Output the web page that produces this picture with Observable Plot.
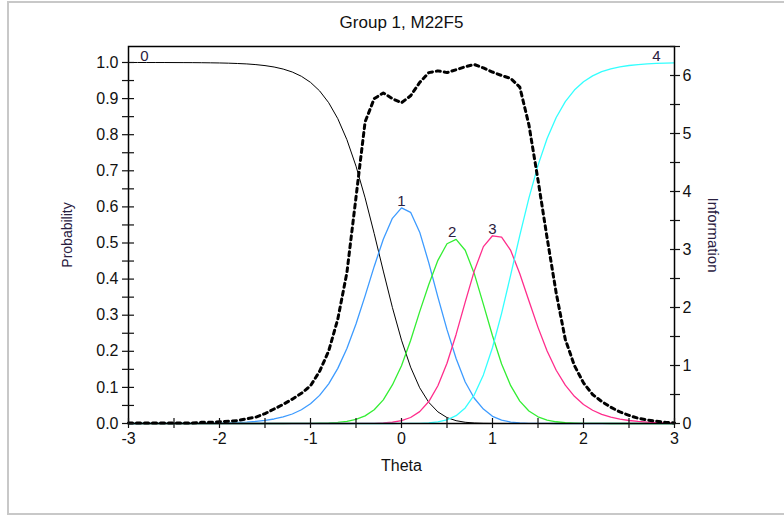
<!DOCTYPE html>
<html><head><meta charset="utf-8">
<script src="https://cdn.jsdelivr.net/npm/d3@7"></script>
<script src="https://cdn.jsdelivr.net/npm/@observablehq/plot@0.6"></script>
<style>
html,body{margin:0;padding:0;background:#fff;}
#wrap{position:relative;width:784px;height:516px;overflow:hidden;background:#fff;}
#border{position:absolute;left:7px;top:1px;width:820px;height:514px;border:2px solid #c8c8c8;box-sizing:border-box;}
#chart{position:absolute;left:0;top:0;}
</style></head><body>
<div id="wrap"><div id="border"></div><div id="chart"></div></div>
<script>
const title = "Group 1, M22F5";
const xLabel = "Theta";
const yLabel = "Probability";
const y2Label = "Information";

const theta = [-3.0,-2.9,-2.8,-2.7,-2.6,-2.5,-2.4,-2.3,-2.2,-2.1,-2.0,-1.9,-1.8,-1.7,-1.6,-1.5,-1.4,-1.3,-1.2,-1.1,-1.0,-0.9,-0.8,-0.7,-0.6,-0.5,-0.4,-0.3,-0.2,-0.1,0.0,0.1,0.2,0.3,0.4,0.5,0.6,0.7,0.8,0.9,1.0,1.1,1.2,1.3,1.4,1.5,1.6,1.7,1.8,1.9,2.0,2.1,2.2,2.3,2.4,2.5,2.6,2.7,2.8,2.9,3.0];

const cat0 = [1.0000,1.0000,0.9999,0.9999,0.9999,0.9998,0.9997,0.9996,0.9994,0.9991,0.9987,0.9981,0.9972,0.9960,0.9941,0.9914,0.9875,0.9818,0.9736,0.9618,0.9450,0.9214,0.8886,0.8443,0.7862,0.7129,0.6251,0.5261,0.4223,0.3214,0.2309,0.1561,0.0989,0.0585,0.0322,0.0164,0.0078,0.0034,0.0014,0.0005,0.0002,0.0001,0,0,0,0,0,0,0,0,0,0,0,0,0,0,0,0,0,0,0];
const cat1 = [0,0,0.0001,0.0001,0.0001,0.0002,0.0003,0.0004,0.0006,0.0009,0.0013,0.0019,0.0028,0.0040,0.0059,0.0086,0.0125,0.0182,0.0263,0.0380,0.0547,0.0779,0.1099,0.1527,0.2079,0.2757,0.3535,0.4351,0.5106,0.5683,0.5971,0.5850,0.5300,0.4450,0.3500,0.2600,0.1800,0.1150,0.0700,0.0399,0.0200,0.0092,0.0040,0.0016,0.0006,0.0002,0.0001,0,0,0,0,0,0,0,0,0,0,0,0,0,0];
const cat2 = [0,0,0,0,0,0,0,0,0,0,0,0,0,0,0,0,0,0,0.0001,0.0002,0.0003,0.0007,0.0014,0.0029,0.0058,0.0113,0.0212,0.0382,0.0656,0.1068,0.1600,0.2300,0.3100,0.3850,0.4520,0.4980,0.5100,0.4800,0.4150,0.3300,0.2430,0.1650,0.1048,0.0621,0.0348,0.0186,0.0096,0.0048,0.0024,0.0012,0.0005,0.0003,0.0001,0,0,0,0,0,0,0,0];
const cat3 = [0,0,0,0,0,0,0,0,0,0,0,0,0,0,0,0,0,0,0,0,0,0,0,0,0,0.0001,0.0002,0.0006,0.0015,0.0035,0.0078,0.0166,0.0328,0.0608,0.1046,0.1670,0.2467,0.3363,0.4228,0.4899,0.5200,0.5160,0.4794,0.4150,0.3401,0.2663,0.2010,0.1476,0.1062,0.0752,0.0527,0.0367,0.0254,0.0175,0.0120,0.0083,0.0057,0.0039,0.0027,0.0018,0.0012];
const cat4 = [0,0,0,0,0,0,0,0,0,0,0,0,0,0,0,0,0,0,0,0,0,0,0,0,0,0,0,0,0,0,0.0001,0.0002,0.0006,0.0017,0.0043,0.0100,0.0217,0.0432,0.0794,0.1346,0.2106,0.3051,0.4118,0.5214,0.6245,0.7149,0.7894,0.8476,0.8914,0.9236,0.9467,0.9630,0.9745,0.9825,0.9880,0.9917,0.9943,0.9961,0.9973,0.9982,0.9988];
const information = [0.01,0.01,0.01,0.01,0.01,0.01,0.01,0.01,0.02,0.02,0.03,0.04,0.05,0.08,0.11,0.17,0.25,0.33,0.42,0.52,0.65,0.9,1.25,1.8,2.6,3.9,5.2,5.6,5.7,5.6,5.53,5.65,5.88,6.05,6.08,6.05,6.1,6.15,6.19,6.13,6.06,6.0,5.95,5.8,5.15,4.2,3.2,2.25,1.45,1.0,0.7,0.5,0.38,0.28,0.2,0.14,0.09,0.06,0.04,0.02,0.01];

const categoryNames = ["0","1","2","3","4"];
const categoryColors = ["#000000","#3d9bff","#33ee33","#ff2d8c","#33ffff"];

const probTicks = [0,0.1,0.2,0.3,0.4,0.5,0.6,0.7,0.8,0.9,1.0];
const probMinorTicks = [0,0.05,0.1,0.15,0.2,0.25,0.3,0.35,0.4,0.45,0.5,0.55,0.6,0.65,0.7,0.75,0.8,0.85,0.9,0.95,1.0];
const infoTicks = [0,1,2,3,4,5,6];
const infoMinorTicks = [0,0.5,1,1.5,2,2.5,3,3.5,4,4.5,5,5.5,6,6.5];
const thetaTicks = [-3,-2,-1,0,1,2,3];
const thetaMinorTicks = [-3,-2.5,-2,-1.5,-1,-0.5,0,0.5,1,1.5,2,2.5,3];

const probMax = 1.0443;
const infoMax = 6.5;
const infoToProb = d3.scaleLinear([0, infoMax], [0, probMax]);

const series = [cat0, cat1, cat2, cat3, cat4];
const rows = series.map(arr => arr.map((v, i) => ({theta: theta[i], p: v})));
const infoRows = information.map((v, i) => ({theta: theta[i], p: infoToProb(v)}));

const font = "'Liberation Sans', Arial, sans-serif";
const ink = "#111";
const labelInk = "#2a2040";
const tickFont = 16;

const curveMarks = rows.map((r, k) => Plot.line(r, {x: "theta", y: "p", stroke: categoryColors[k], strokeWidth: k === 0 ? 1 : 1.3}));

const peakLabelDx = [0, 0, -4, 0, 0];
const peakLabels = [1, 2, 3].map(k => {
  const i = d3.maxIndex(series[k]);
  return Plot.text([{theta: theta[i], p: series[k][i], t: categoryNames[k]}], {
    x: "theta", y: "p", text: "t", lineAnchor: "bottom", dy: -2, dx: peakLabelDx[k],
    fill: labelInk, fontSize: 15
  });
});

const chart = Plot.plot({
  width: 784,
  height: 516,
  marginLeft: 128,
  marginRight: 110,
  marginTop: 46,
  marginBottom: 93,
  style: {fontFamily: font, fontSize: "15px", color: ink, background: "transparent"},
  x: {domain: [-3, 3]},
  y: {domain: [0, probMax]},
  marks: [
    ...curveMarks,
    Plot.line(infoRows, {x: "theta", y: "p", stroke: "#000", strokeWidth: 3, strokeDasharray: "4,4"}),
    ...peakLabels,
    Plot.text([categoryNames[0]], {text: d => d, frameAnchor: "top-left", lineAnchor: "middle", textAnchor: "middle", dx: 16, dy: 10, fill: labelInk, fontSize: 15}),
    Plot.text([categoryNames[4]], {text: d => d, frameAnchor: "top-right", lineAnchor: "middle", textAnchor: "middle", dx: -18, dy: 10, fill: labelInk, fontSize: 15}),
    Plot.frame({stroke: "#000", strokeWidth: 1.5}),
    // left axis
    Plot.axisY(probMinorTicks, {anchor: "left", tickSize: 12, dx: 6, fill: "none", label: null, strokeWidth: 1.2}),
    Plot.axisY(probTicks, {anchor: "left", tickSize: 0, tickPadding: 10, tickFormat: d => d.toFixed(1), label: null, fontSize: tickFont}),
    // right axis
    Plot.axisY(infoMinorTicks.map(infoToProb), {anchor: "right", tickSize: 10, dx: -5, fill: "none", label: null, strokeWidth: 1.2}),
    Plot.axisY(infoTicks.map(infoToProb), {anchor: "right", tickSize: 0, tickPadding: 8, tickFormat: d => String(Math.round(infoToProb.invert(d))), label: null, fontSize: tickFont}),
    // bottom axis
    Plot.axisX(thetaMinorTicks, {anchor: "bottom", tickSize: 10, dy: -5, fill: "none", label: null, strokeWidth: 1.2}),
    Plot.axisX(thetaTicks, {anchor: "bottom", tickSize: 0, tickPadding: 9, tickFormat: d => String(d), label: null, fontSize: tickFont}),
    // titles
    Plot.text([title], {text: d => d, frameAnchor: "top", lineAnchor: "middle", dy: -24, fontSize: 17, fill: ink}),
    Plot.text([xLabel], {text: d => d, frameAnchor: "bottom", lineAnchor: "middle", dy: 42, fontSize: 16, fill: ink}),
    Plot.text([yLabel], {text: d => d, frameAnchor: "left", textAnchor: "middle", lineAnchor: "middle", dx: -61, rotate: -90, fontSize: 14, fill: labelInk}),
    Plot.text([y2Label], {text: d => d, frameAnchor: "right", textAnchor: "middle", lineAnchor: "middle", dx: 38, rotate: 90, fontSize: 15, fill: labelInk})
  ]
});
document.getElementById("chart").appendChild(chart);
</script>
</body></html>
